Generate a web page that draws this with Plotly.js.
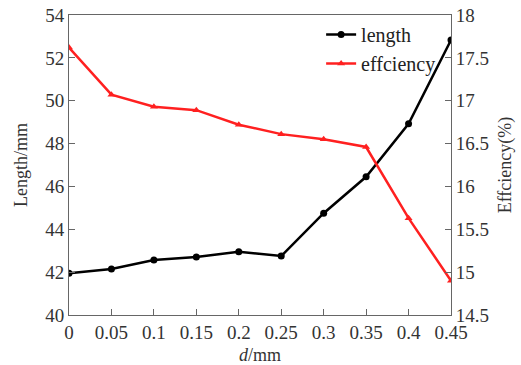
<!DOCTYPE html>
<html>
<head>
<meta charset="utf-8">
<script src="https://cdn.plot.ly/plotly-3.0.1.min.js"></script>
<style>html,body{margin:0;padding:0;background:#fff;}#chart{width:521px;height:365px;}</style>
</head>
<body>
<div id="chart"></div>
<script>
const dValues = [0, 0.05, 0.1, 0.15, 0.2, 0.25, 0.3, 0.35, 0.4, 0.45];
const lengthValues = [41.95, 42.15, 42.57, 42.71, 42.95, 42.75, 44.75, 46.45, 48.92, 52.83];
const efficiencyValues = [17.62, 17.07, 16.93, 16.89, 16.72, 16.61, 16.55, 16.46, 15.63, 14.9];
const xTicks = [0, 0.05, 0.1, 0.15, 0.2, 0.25, 0.3, 0.35, 0.4, 0.45];
const xTickLabels = ['0', '0.05', '0.1', '0.15', '0.2', '0.25', '0.3', '0.35', '0.4', '0.45'];
const leftTicks = [40, 42, 44, 46, 48, 50, 52, 54];
const rightTicks = [14.5, 15, 15.5, 16, 16.5, 17, 17.5, 18];

const fam = 'Liberation Serif, Times New Roman, serif';
const tickFont = {family: fam, size: 19, color: '#333'};
const titleFont = {family: fam, size: 18, color: '#333'};
const axisCol = '#666';

const traces = [
  {x: dValues, y: lengthValues, name: 'length', type: 'scatter', mode: 'lines+markers',
   line: {color: '#000', width: 2.5}, marker: {color: '#000', size: 7, symbol: 'circle'}, yaxis: 'y'},
  {x: dValues, y: efficiencyValues, name: 'effciency', type: 'scatter', mode: 'lines+markers',
   line: {color: '#ff2020', width: 2.5}, marker: {color: '#ff2020', size: 7, symbol: 'triangle-up'}, yaxis: 'y2'}
];

const layout = {
  width: 521, height: 365,
  margin: {l: 69, r: 70, t: 15, b: 50},
  paper_bgcolor: '#fff', plot_bgcolor: '#fff',
  font: tickFont,
  showlegend: true,
  legend: {x: 0.66, y: 1.0, xanchor: 'left', yanchor: 'top', bgcolor: 'rgba(0,0,0,0)',
           font: {family: fam, size: 20, color: '#222'}, tracegroupgap: 0, itemwidth: 30},
  xaxis: {range: [0, 0.45], tickvals: xTicks, ticktext: xTickLabels, ticks: 'inside', ticklen: 6,
          tickcolor: axisCol, showline: true, linecolor: axisCol, linewidth: 1, mirror: true,
          showgrid: false, zeroline: false, tickfont: tickFont, automargin: false,
          title: {text: '<i>d</i>/mm', font: titleFont, standoff: 6}},
  yaxis: {range: [40, 54], tickvals: leftTicks, ticks: 'inside', ticklen: 6, tickcolor: axisCol,
          showline: true, linecolor: axisCol, linewidth: 1, showgrid: false, zeroline: false,
          tickfont: tickFont, automargin: false, title: {text: 'Length/mm', font: titleFont, standoff: 12}},
  yaxis2: {range: [14.5, 18], tickvals: rightTicks, overlaying: 'y', side: 'right', ticks: 'inside',
           ticklen: 6, tickcolor: axisCol, showline: true, linecolor: axisCol, linewidth: 1,
           showgrid: false, zeroline: false, tickfont: tickFont, automargin: false,
           title: {text: 'Effciency(%)', font: titleFont, standoff: 10}}
};

Plotly.newPlot('chart', traces, layout, {displayModeBar: false, staticPlot: true});
</script>
</body>
</html>
